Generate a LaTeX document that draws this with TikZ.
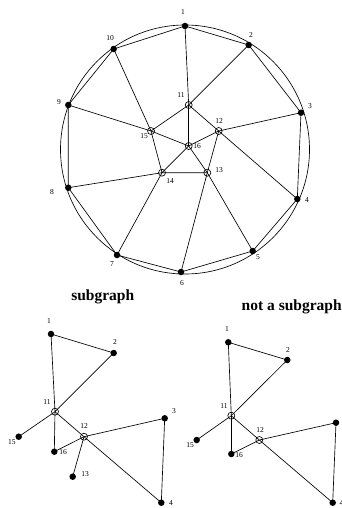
\documentclass[tikz,border=0pt]{standalone}
\usepackage{fontspec}
\setmainfont{Liberation Serif}
\usetikzlibrary{positioning}

\begin{document}
\begin{tikzpicture}[x=1pt,y=-1pt,
			line width=0.65pt,
			dot/.style={circle,fill,inner sep=0pt,minimum size=6.5pt},
			hub/.style={circle,draw,inner sep=0pt,minimum size=7pt},
			lbl/.style={inner sep=0pt,font=\fontsize{7.5}{8}\selectfont},
			title/.style={inner sep=0pt,font=\fontsize{15.5}{17}\selectfont\bfseries}]
			
			\useasboundingbox (0,0) rectangle (342,508);
			
			% whole graph
			\draw (185,149.5) circle (124.5pt);
			
			\node[dot](a1) at (185,26){};
			\node[dot](a2) at (248.7,45){};
			\node[dot](a3) at (301,112.7){};
			\node[dot](a4) at (297.3,199){};
			\node[dot](a5) at (252.7,251){};
			\node[dot](a6) at (181,272){};
			\node[dot](a7) at (117,255){};
			\node[dot](a8) at (68.3,187.7){};
			\node[dot](a9) at (68.3,105){};
			\node[dot](a10) at (113.7,49){};
			
			\node[hub](a11) at (188.7,105){};
			\node[hub](a12) at (218.7,131){};
			\node[hub](a13) at (207.3,172.7){};
			\node[hub](a14) at (162,172.7){};
			\node[hub](a15) at (151,131){};
			\node[hub](a16) at (188.7,146){};
			
			\node[lbl](la1) at (183,12){1};
			\node[lbl](la2) at (251,35){2};
			\node[lbl](la3) at (310,106){3};
			\node[lbl](la4) at (307,200){4};
			\node[lbl](la5) at (258,257){5};
			\node[lbl](la6) at (182,283){6};
			\node[lbl](la7) at (112,264){7};
			\node[lbl](la8) at (52,192){8};
			\node[lbl](la9) at (59,102){9};
			\node[lbl](la10) at (110,38){10};
			\node[lbl](la11) at (181,95){11};
			\node[lbl](la12) at (219,121){12};
			\node[lbl](la13) at (219,170){13};
			\node[lbl](la14) at (170,181){14};
			\node[lbl](la15) at (144,136){15};
			\node[lbl](la16) at (197,146.5){16};
			
			\draw (a1.center)--(a2.center)--(a3.center)--(a4.center)--(a5.center)--(a6.center)
				--(a7.center)--(a8.center)--(a9.center)--(a10.center)--(a1.center);
			
			\draw (a1.center)--(a11.center);
			\draw (a2.center)--(a11.center);
			\draw (a3.center)--(a12.center);
			\draw (a4.center)--(a12.center);
			\draw (a5.center)--(a13.center);
			\draw (a6.center)--(a13.center);
			\draw (a7.center)--(a14.center);
			\draw (a8.center)--(a14.center);
			\draw (a9.center)--(a15.center);
			\draw (a10.center)--(a15.center);
			
			\draw (a11.center)--(a12.center)--(a13.center)--(a14.center)--(a15.center)--(a11.center);
			
			\draw (a16.center)--(a11.center);
			\draw (a16.center)--(a12.center);
			\draw (a16.center)--(a13.center);
			\draw (a16.center)--(a14.center);
			\draw (a16.center)--(a15.center);
			
			% subgraph
			\node[title](sub) at (102.7,297){subgraph};
			
			\node[dot](b1) at (51,334){};
			\node[dot](b2) at (113.7,353){};
			\node[dot](b3) at (164.7,418.3){};
			\node[dot](b4) at (161.3,502.7){};
			\node[hub](b11) at (55,411.7){};
			\node[hub](b12) at (84,436.7){};
			\node[dot](b13) at (72.7,476.7){};
			\node[dot](b15) at (18.7,436.7){};
			\node[dot](b16) at (54.3,451.7){};
			
			\node[lbl](lb1) at (49,321){1};
			\node[lbl](lb2) at (115,342){2};
			\node[lbl](lb3) at (174,411){3};
			\node[lbl](lb4) at (171,503.5){4};
			\node[lbl](lb11) at (47,402){11};
			\node[lbl](lb12) at (84,426){12};
			\node[lbl](lb13) at (85,474){13};
			\node[lbl](lb15) at (12,442){15};
			\node[lbl](lb16) at (63,452.5){16};
			
			\draw (b1.center)--(b2.center)--(b11.center)--(b1.center);
			\draw (b11.center)--(b15.center);
			\draw (b11.center)--(b16.center);
			\draw (b11.center)--(b12.center)--(b4.center)--(b3.center)--(b12.center);
			\draw (b12.center)--(b16.center);
			\draw (b12.center)--(b13.center);
			
			% not a subgraph
			\node[title](nsub) at (291.7,307){not a subgraph};
			
			\node[dot](c1) at (228.3,342.3){};
			\node[dot](c2) at (287.3,360){};
			\node[dot](c3) at (336,422.7){};
			\node[dot](c4) at (332.7,502.7){};
			\node[hub](c11) at (231.3,415.7){};
			\node[hub](c12) at (259.3,440){};
			\node[dot](c15) at (196.7,440){};
			\node[dot](c16) at (231.3,454){};
			
			\node[lbl](lc1) at (227,329){1};
			\node[lbl](lc2) at (288,350){2};
			\node[lbl](lc4) at (341.5,503.5){4};
			\node[lbl](lc11) at (224,406){11};
			\node[lbl](lc12) at (260,430){12};
			\node[lbl](lc15) at (190,445){15};
			\node[lbl](lc16) at (239,455){16};
			
			\draw (c1.center)--(c2.center)--(c11.center)--(c1.center);
			\draw (c11.center)--(c15.center);
			\draw (c11.center)--(c16.center);
			\draw (c11.center)--(c12.center)--(c4.center)--(c3.center)--(c12.center);
			\draw (c12.center)--(c16.center);
			
		\end{tikzpicture}
\end{document}
